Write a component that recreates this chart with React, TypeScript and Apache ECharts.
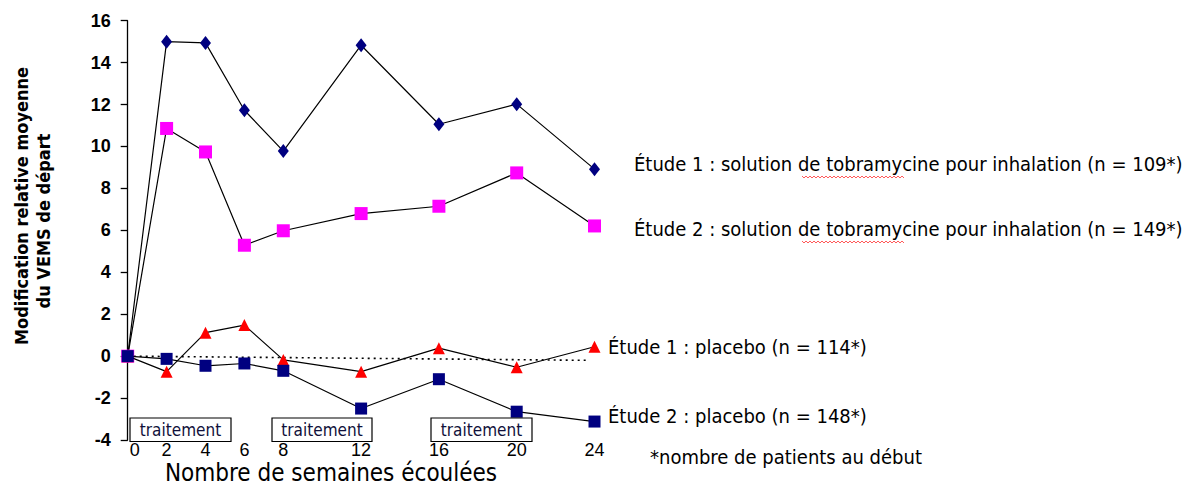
import React, { useEffect, useRef } from "react";
import * as echarts from "echarts";

const weeks = [0, 2, 4, 6, 8, 12, 16, 20, 24];
const etude1Tobra = [0, 15.0, 14.94, 11.73, 9.78, 14.83, 11.06, 12.02, 8.92];
const etude2Tobra = [0, 10.86, 9.74, 5.29, 5.98, 6.8, 7.15, 8.74, 6.21];
const etude1Placebo = [0, -0.74, 1.12, 1.48, -0.18, -0.74, 0.38, -0.53, 0.45];
const etude2Placebo = [0, -0.13, -0.46, -0.35, -0.7, -2.5, -1.1, -2.65, -3.12];
const refLineWeeks = [0, 23.6];
const refLineValues = [0, -0.2];
const xTickLabels = [0, 2, 4, 6, 8, 12, 16, 20, 24];
const seriesLabels = [
  "Étude 1 : solution de tobramycine pour inhalation (n = 109*)",
  "Étude 2 : solution de tobramycine pour inhalation (n = 149*)",
  "Étude 1 : placebo (n = 114*)",
  "Étude 2 : placebo (n = 148*)",
];
const footnote = "*nombre de patients au début";
const yTitleLines = ["Modification relative moyenne", "du VEMS de départ"];
const xTitle = "Nombre de semaines écoulées";
const boxLabel = "traitement";

const pairs = (xs: number[], ys: number[]) => xs.map((x, i) => [x, ys[i]]);

const NARROW = "'Liberation Sans Narrow', 'DejaVu Sans Condensed', 'Liberation Sans', sans-serif";
const ARIAL = "'Liberation Sans', Arial, sans-serif";

function squiggle(x0: number, x1: number, y: number) {
  const pts: number[][] = [];
  let up = true;
  for (let x = x0; x <= x1; x += 2) {
    pts.push([x, up ? y - 1 : y + 1]);
    up = !up;
  }
  return {
    type: "polyline",
    shape: { points: pts },
    style: { stroke: "#ff3030", lineWidth: 0.8, fill: null },
    silent: true,
  };
}

export default function App() {
  const ref = useRef<HTMLDivElement>(null);
  useEffect(() => {
    if (!ref.current) return;
    const chart = echarts.init(ref.current, null, { renderer: "svg" });
    const lineStyle = { color: "#000", width: 1.2 };
    const boxes = [
      [130, 101],
      [272, 100],
      [431, 101],
    ];
    const labelText = (x: number, y: number, text: string, size = 20) => ({
      type: "text",
      x,
      y,
      style: { text, fontSize: size, fontFamily: NARROW, fill: "#000", verticalAlign: "middle" },
    });
    const tickRich = { fontSize: 18, lineHeight: 16, fontFamily: ARIAL, color: "#000" };
    chart.setOption({
      animation: false,
      backgroundColor: "#fff",
      grid: { left: 127.7, right: 598.5, top: 20.7, bottom: 47, containLabel: false },
      xAxis: {
        type: "value",
        min: 0,
        max: 24,
        interval: 2,
        axisLine: { show: false },
        axisTick: { show: false },
        splitLine: { show: false },
        axisLabel: {
          margin: 2,
          fontSize: 18,
          fontFamily: ARIAL,
          color: "#000",
          formatter: (v: number) =>
            xTickLabels.includes(v) ? (v === 0 ? "{z|0}" : "{a|" + v + "}") : "",
          rich: {
            a: tickRich,
            z: { ...tickRich, padding: [0, 0, 0, 14] },
          },
        },
      },
      yAxis: {
        type: "value",
        min: -4,
        max: 16,
        interval: 2,
        axisLine: { show: true, lineStyle: { color: "#000", width: 1.3 } },
        axisTick: { show: true, length: 7, lineStyle: { color: "#000", width: 1.3 } },
        splitLine: { show: false },
        axisLabel: {
          margin: 17,
          fontSize: 18,
          fontWeight: "bold",
          fontFamily: ARIAL,
          color: "#000",
        },
      },
      series: [
        {
          type: "line",
          data: pairs(refLineWeeks, refLineValues),
          symbol: "none",
          lineStyle: { color: "#000", width: 1.6, type: [2, 4] },
          z: 1,
        },
        {
          type: "line",
          data: pairs(weeks, etude1Tobra),
          symbol: "diamond",
          symbolSize: [11, 14],
          itemStyle: { color: "#000080" },
          lineStyle,
          z: 2,
        },
        {
          type: "line",
          data: pairs(weeks, etude2Tobra),
          symbol: "rect",
          symbolSize: 13,
          itemStyle: { color: "#ff00ff" },
          lineStyle,
          z: 3,
        },
        {
          type: "line",
          data: pairs(weeks, etude1Placebo),
          symbol: "triangle",
          symbolSize: 12,
          itemStyle: { color: "#ff0000" },
          lineStyle,
          z: 4,
        },
        {
          type: "line",
          data: pairs(weeks, etude2Placebo),
          symbol: "rect",
          symbolSize: 12,
          itemStyle: { color: "#000080" },
          lineStyle,
          z: 5,
        },
      ],
      graphic: [
        ...boxes.flatMap(([x, w]) => [
          {
            type: "rect",
            shape: { x, y: 418, width: w, height: 23.5 },
            style: { fill: "#fff", stroke: "#000", lineWidth: 1.2 },
            z: 10,
          },
          {
            type: "text",
            x: x + w / 2,
            y: 430,
            style: {
              text: boxLabel,
              fontSize: 17,
              fontFamily: NARROW,
              fill: "#10103a",
              align: "center",
              verticalAlign: "middle",
            },
            z: 11,
          },
        ]),
        {
          type: "text",
          x: 21,
          y: 206,
          rotation: Math.PI / 2,
          style: {
            text: yTitleLines[0],
            fontSize: 18,
            fontWeight: "bold",
            fontFamily: NARROW,
            fill: "#000",
            align: "center",
            verticalAlign: "middle",
          },
        },
        {
          type: "text",
          x: 43,
          y: 221,
          rotation: Math.PI / 2,
          style: {
            text: yTitleLines[1],
            fontSize: 18,
            fontWeight: "bold",
            fontFamily: NARROW,
            fill: "#000",
            align: "center",
            verticalAlign: "middle",
          },
        },
        {
          type: "text",
          x: 331,
          y: 473,
          style: {
            text: xTitle,
            fontSize: 24,
            fontFamily: NARROW,
            fill: "#000",
            align: "center",
            verticalAlign: "middle",
          },
        },
        labelText(634, 164, seriesLabels[0]),
        labelText(634, 229, seriesLabels[1]),
        squiggle(802, 905, 177),
        squiggle(802, 905, 242),
        labelText(608, 347, seriesLabels[2]),
        labelText(608, 416, seriesLabels[3]),
        labelText(650, 457, footnote),
      ],
    });
    return () => chart.dispose();
  }, []);
  return (
    <div
      ref={ref}
      style={{ position: "fixed", left: 0, top: 0, width: 1193, height: 487, background: "#fff" }}
    />
  );
}
